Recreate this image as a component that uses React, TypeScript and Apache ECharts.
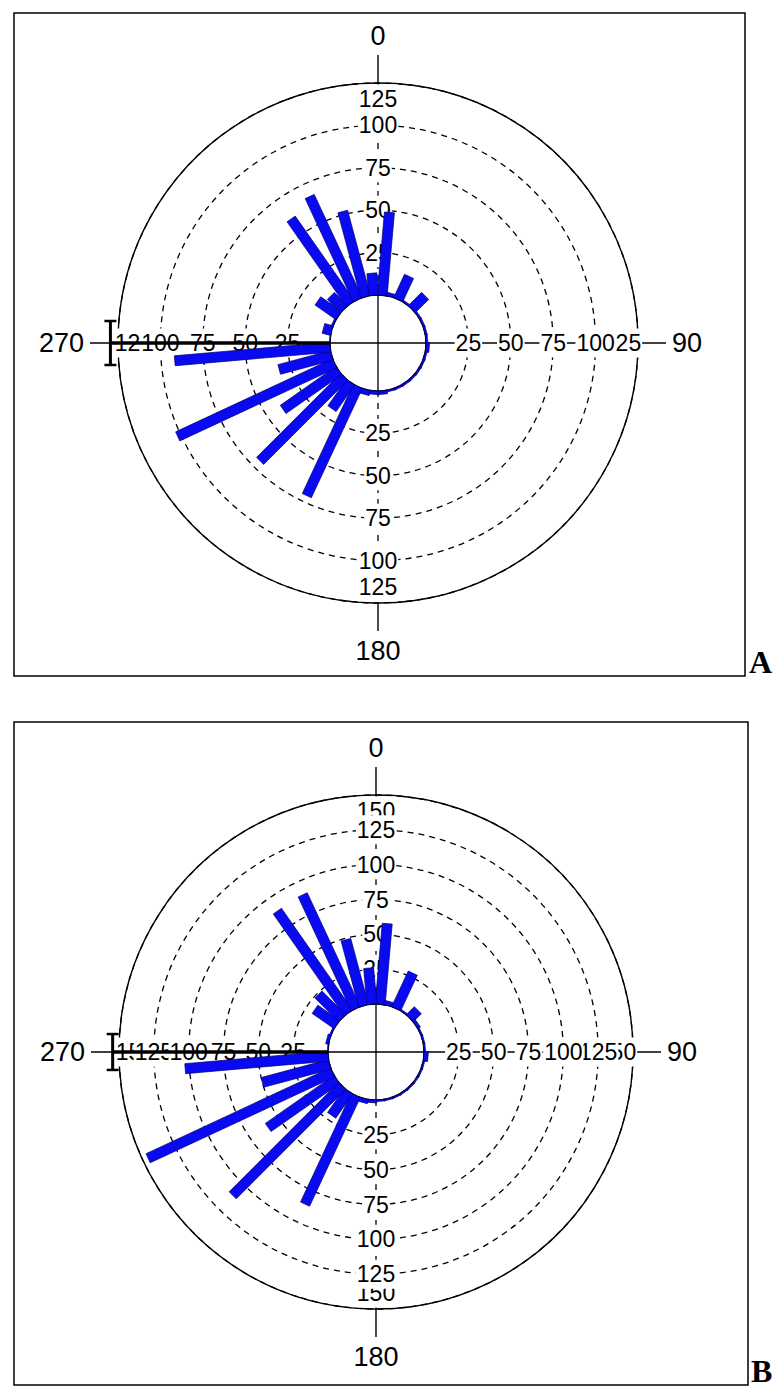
import React, { useEffect, useRef } from "react";
import * as echarts from "echarts";

// ---- data ----
const ANGLES = [5, 15, 25, 35, 45, 55, 65, 75, 85, 95, 105, 115, 125, 135, 145, 155, 165, 175,
  185, 195, 205, 215, 225, 235, 245, 255, 265, 275, 285, 295, 305, 315, 325, 335, 345, 355];
const VALUES_A = [49, 2, 15, 1, 11, 1, 1, 1, 1, 2, 1, 1, 1, 1, 1, 1, 1, 2,
  2, 3, 71, 19, 70, 40, 102, 32, 92, 0, 5, 1, 15, 11, 61, 67, 52, 13];
const VALUES_B = [58, 3, 28, 1, 8, 2, 1, 1, 1, 3, 1, 1, 1, 1, 1, 1, 1, 1,
  2, 3, 86, 21, 111, 60, 146, 50, 103, 0, 2, 1, 19, 24, 89, 90, 49, 26];
const TICKS_A = [125, 100, 75, 50, 25];
const TICKS_B = [150, 125, 100, 75, 50, 25];
const LABEL_DIRECTIONS = [0, 90, 180, 270];
const MEAN_A = [130, 270, 4.7]; // length, direction, angular error
const MEAN_B = [155, 270, 3.9];

const FONT = '"Liberation Sans", Arial, sans-serif';

function barSeries(polarIndex: number, values: number[], width: number) {
  return {
    type: "custom",
    coordinateSystem: "polar",
    polarIndex,
    clip: false,
    z: 4,
    data: ANGLES.map((a, i) => [values[i], a]),
    renderItem: (params: any, api: any) => {
      const cs = params.coordSys;
      const v = api.value(0);
      const a = api.value(1);
      const p0 = api.coord([0, a]);
      const p1 = api.coord([v, a]);
      let ux = p0[0] - cs.cx, uy = p0[1] - cs.cy;
      const l = Math.hypot(ux, uy) || 1;
      ux /= l; uy /= l;
      const nx = -uy * width / 2, ny = ux * width / 2;
      return {
        type: "polygon",
        shape: {
          points: [
            [p0[0] + nx, p0[1] + ny], [p1[0] + nx, p1[1] + ny],
            [p1[0] - nx, p1[1] - ny], [p0[0] - nx, p0[1] - ny],
          ],
        },
        style: { fill: "#0a0af2", stroke: "#000070", lineWidth: 0.7 },
      };
    },
  };
}

function frameSeries(polarIndex: number) {
  return {
    type: "custom",
    coordinateSystem: "polar",
    polarIndex,
    clip: false,
    z: 2,
    data: [[0, 0]],
    renderItem: (params: any) => {
      const { cx, cy, r, r0 } = params.coordSys;
      const ln = (x1: number, y1: number, x2: number, y2: number, dash?: number[]) => ({
        type: "line",
        shape: { x1, y1, x2, y2 },
        style: { stroke: "#000", lineWidth: 1.3, lineDash: dash || null },
      });
      return {
        type: "group",
        children: [
          ln(cx - r0, cy, cx + r0, cy),
          ln(cx, cy - r0, cx, cy + r0),
          ln(cx + r0, cy, cx + r, cy),
          ln(cx - r, cy, cx - r0, cy),
          ln(cx, cy - r, cx, cy - r0, [6, 6]),
          ln(cx, cy + r0, cx, cy + r, [6, 6]),
        ],
      };
    },
  };
}

function labelSeries(polarIndex: number, ticks: number[]) {
  const max = Math.max(...ticks);
  const data: number[][] = [];
  LABEL_DIRECTIONS.forEach((d) => ticks.forEach((t) => data.push([t, d])));
  return {
    type: "custom",
    coordinateSystem: "polar",
    polarIndex,
    clip: false,
    z: 3,
    data,
    renderItem: (params: any, api: any) => {
      const cs = params.coordSys;
      const v = api.value(0);
      const a = api.value(1);
      const p = api.coord([v, a]);
      let x = p[0], y = p[1];
      if (v === max) {
        const dx = cs.cx - x, dy = cs.cy - y;
        const l = Math.hypot(dx, dy) || 1;
        x += (dx / l) * 16;
        y += (dy / l) * 16;
      }
      return {
        type: "text",
        x,
        y,
        style: {
          text: String(v),
          fill: "#000",
          font: `23px ${FONT}`,
          align: "center",
          verticalAlign: "middle",
          backgroundColor: "#fff",
          padding: [3, 1],
        },
      };
    },
  };
}

function meanSeries(polarIndex: number, mean: number[]) {
  return {
    type: "custom",
    coordinateSystem: "polar",
    polarIndex,
    clip: false,
    z: 5,
    data: [mean],
    renderItem: (params: any, api: any) => {
      const cs = params.coordSys;
      const len = api.value(0), ang = api.value(1), err = api.value(2);
      const p0 = api.coord([0, ang]);
      const p1 = api.coord([len, ang]);
      const e1 = api.coord([len, ang - err]);
      const e2 = api.coord([len, ang + err]);
      let ux = p1[0] - cs.cx, uy = p1[1] - cs.cy;
      const l = Math.hypot(ux, uy) || 1;
      ux /= l; uy /= l;
      const c = 6;
      const st = { stroke: "#000", lineWidth: 3.5 };
      const cap = (e: number[]) => ({
        type: "line",
        shape: { x1: e[0] - ux * c, y1: e[1] - uy * c, x2: e[0] + ux * c, y2: e[1] + uy * c },
        style: { stroke: "#000", lineWidth: 2.5 },
      });
      return {
        type: "group",
        children: [
          { type: "line", shape: { x1: p0[0], y1: p0[1], x2: p1[0], y2: p1[1] }, style: st },
          { type: "line", shape: { x1: e1[0], y1: e1[1], x2: e2[0], y2: e2[1] }, style: { stroke: "#000", lineWidth: 3 } },
          cap(e1),
          cap(e2),
        ],
      };
    },
  };
}

function angleAxis(polarIndex: number) {
  return {
    polarIndex,
    type: "value",
    min: 0,
    max: 360,
    interval: 90,
    startAngle: 90,
    clockwise: true,
    axisLine: { show: true, lineStyle: { color: "#000", width: 1.4 } },
    axisTick: { show: true, length: 28, lineStyle: { color: "#000", width: 1.4 } },
    axisLabel: {
      show: true,
      margin: 34,
      color: "#000",
      fontSize: 27,
      fontFamily: "Liberation Sans",
      formatter: (v: number) => (v === 360 ? "" : String(v)),
    },
    splitLine: { show: false },
    splitArea: { show: false },
  };
}

function radiusAxis(polarIndex: number, max: number) {
  return {
    polarIndex,
    type: "value",
    min: 0,
    max,
    interval: 25,
    axisLine: { show: false },
    axisTick: { show: false },
    axisLabel: { show: false },
    splitLine: { show: true, lineStyle: { color: "#000", width: 1.3, type: [6, 5] } },
    splitArea: { show: false },
  };
}

export default function App() {
  const ref = useRef<HTMLDivElement>(null);
  useEffect(() => {
    if (!ref.current) return;
    const chart = echarts.init(ref.current, undefined, { renderer: "svg" });
    chart.setOption({
      animation: false,
      backgroundColor: "#fff",
      polar: [
        { center: [378, 343], radius: [48, 260] },
        { center: [376, 1052], radius: [48, 257] },
      ],
      angleAxis: [angleAxis(0), angleAxis(1)],
      radiusAxis: [radiusAxis(0, 125), radiusAxis(1, 150)],
      graphic: [
        { type: "rect", shape: { x: 14, y: 13, width: 731, height: 663 }, style: { fill: "none", stroke: "#000", lineWidth: 1.5 }, z: 1 },
        { type: "rect", shape: { x: 14, y: 722, width: 734, height: 663 }, style: { fill: "none", stroke: "#000", lineWidth: 1.5 }, z: 1 },
        { type: "text", x: 749, y: 678, style: { text: "A", font: 'bold 32px "Liberation Serif", serif', fill: "#000", verticalAlign: "bottom" } },
        { type: "text", x: 751, y: 1387, style: { text: "B", font: 'bold 32px "Liberation Serif", serif', fill: "#000", verticalAlign: "bottom" } },
      ],
      series: [
        frameSeries(0),
        labelSeries(0, TICKS_A),
        barSeries(0, VALUES_A, 10),
        meanSeries(0, MEAN_A),
        frameSeries(1),
        labelSeries(1, TICKS_B),
        barSeries(1, VALUES_B, 10),
        meanSeries(1, MEAN_B),
      ],
    });
    return () => chart.dispose();
  }, []);
  return (
    <div
      ref={ref}
      style={{ position: "absolute", left: 0, top: 0, width: 778, height: 1388 }}
    />
  );
}
